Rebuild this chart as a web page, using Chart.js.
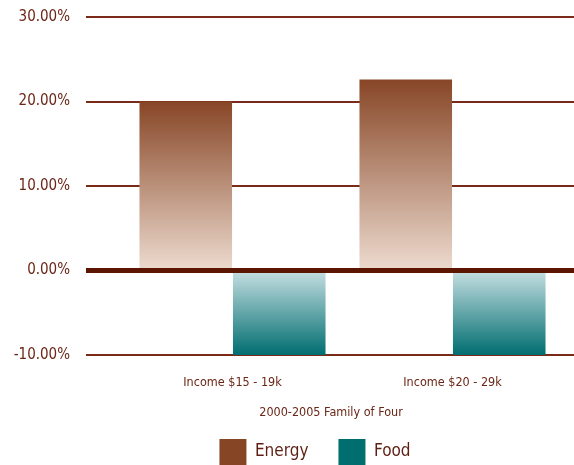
<!DOCTYPE html>
<html>
<head>
<meta charset="utf-8">
<script src="https://cdn.jsdelivr.net/npm/chart.js@4/dist/chart.umd.min.js"></script>
<style>
  body { margin: 0; background: #ffffff; }
  #wrap { width: 574px; height: 465px; }
</style>
</head>
<body>
<div id="wrap"><canvas id="chart" width="574" height="465"></canvas></div>
<script>
var categories = ['Income $15 - 19k', 'Income $20 - 29k'];
var energyValues = [20.0, 22.6];
var foodValues = [-10.0, -10.0];
var yTicks = [-10, 0, 10, 20, 30];
var chartTitle = '2000-2005 Family of Four';
var legendColors = ['#864524', '#006d6e'];

var FONT = '"DejaVu Sans Condensed", "Liberation Sans Narrow", sans-serif';
var TEXT = '#6a2616';

// each bar fades from the solid colour at its value to a pale tint at zero
function barFill(solid, pale)
{
    return function(ctx) {
        var chart = ctx.chart;
        if (ctx.type !== 'data' || !chart.chartArea || !chart.scales.y) return solid;
        var y = chart.scales.y;
        var yv = y.getPixelForValue(ctx.raw);
        var y0 = y.getPixelForValue(0);
        if (!isFinite(yv) || Math.abs(yv - y0) < 1) return solid;
        var g = chart.ctx.createLinearGradient(0, yv, 0, y0);
        g.addColorStop(0, solid);
        g.addColorStop(1, pale);
        return g;
    };
}

var wideGrid = {
    id: 'wideGrid',
    afterLayout: function(chart) {
        // the legend and caption sit right of the canvas centre
        chart.legend.left = 67.5;
        chart.titleBlock.left = 99.5;
    },
    beforeDatasetsDraw: function(chart) {
        var c = chart.ctx, y = chart.scales.y;
        c.save();
        c.strokeStyle = '#7a2a18';
        c.lineWidth = 2;
        y.ticks.forEach(function(t) {
            if (t.value === 0) return;
            var py = Math.round(y.getPixelForValue(t.value));
            c.beginPath();
            c.moveTo(86, py);
            c.lineTo(chart.width, py);
            c.stroke();
        });
        c.restore();
    },
    afterDatasetsDraw: function(chart) {
        var c = chart.ctx, y = chart.scales.y;
        var py = y.getPixelForValue(0);
        c.save();
        c.strokeStyle = '#5c1500';
        c.lineWidth = 5;
        c.beginPath();
        c.moveTo(86, py);
        c.lineTo(chart.width, py);
        c.stroke();
        c.restore();
    }
};

var ctx = document.getElementById('chart').getContext('2d');
var chart = new Chart(ctx, {
    type: 'bar',
    data: {
        labels: categories,
        datasets: [{
            label: 'Energy',
            data: energyValues,
            backgroundColor: barFill('#874626', '#eddbcf'),
            borderWidth: 0,
            barPercentage: 0.99,
            categoryPercentage: 0.85
        }, {
            label: 'Food',
            data: foodValues,
            backgroundColor: barFill('#006d70', '#c6dfe2'),
            borderWidth: 0,
            barPercentage: 0.99,
            categoryPercentage: 0.85
        }]
    },
    options: {
        responsive: false,
        animation: false,
        layout: {
            padding: { left: 0, right: 11.5, top: 17, bottom: 0 }
        },
        plugins: {
            tooltip: { enabled: false },
            title: {
                display: true,
                position: 'bottom',
                weight: 500,
                text: chartTitle,
                color: TEXT,
                padding: { top: 15.5, bottom: -11.5 },
                font: { family: FONT, size: 12.5, weight: 'normal' }
            },
            legend: {
                position: 'bottom',
                maxHeight: 56,
                labels: {
                    boxWidth: 27,
                    boxHeight: 26,
                    padding: 30,
                    color: '#5e1f12',
                    font: { family: FONT, size: 17 },
                    generateLabels: function(chart) {
                        var items = Chart.defaults.plugins.legend.labels.generateLabels(chart);
                        items.forEach(function(it, i) {
                            it.fillStyle = legendColors[i];
                            it.strokeStyle = legendColors[i];
                            it.lineWidth = 0;
                        });
                        return items;
                    }
                }
            }
        },
        scales: {
            x: {
                grid: { display: false, drawTicks: false },
                border: { display: false },
                afterFit: function(scale) { scale.height = 35; },
                ticks: {
                    color: TEXT,
                    padding: 20,
                    font: { family: FONT, size: 12.5 }
                }
            },
            y: {
                min: yTicks[0],
                max: yTicks[yTicks.length - 1],
                grid: { display: false, drawTicks: false },
                border: { display: false },
                afterFit: function(scale) {
                    scale.width = 122.5;
                    scale.paddingTop = 0;
                    scale.paddingBottom = 0;
                },
                afterBuildTicks: function(scale) {
                    scale.ticks = yTicks.map(function(v) { return { value: v }; });
                },
                ticks: {
                    color: TEXT,
                    padding: 52.5,
                    font: { family: FONT, size: 15 },
                    callback: function(v) { return v.toFixed(2) + '%'; }
                }
            }
        }
    },
    plugins: [wideGrid]
});
</script>
</body>
</html>
